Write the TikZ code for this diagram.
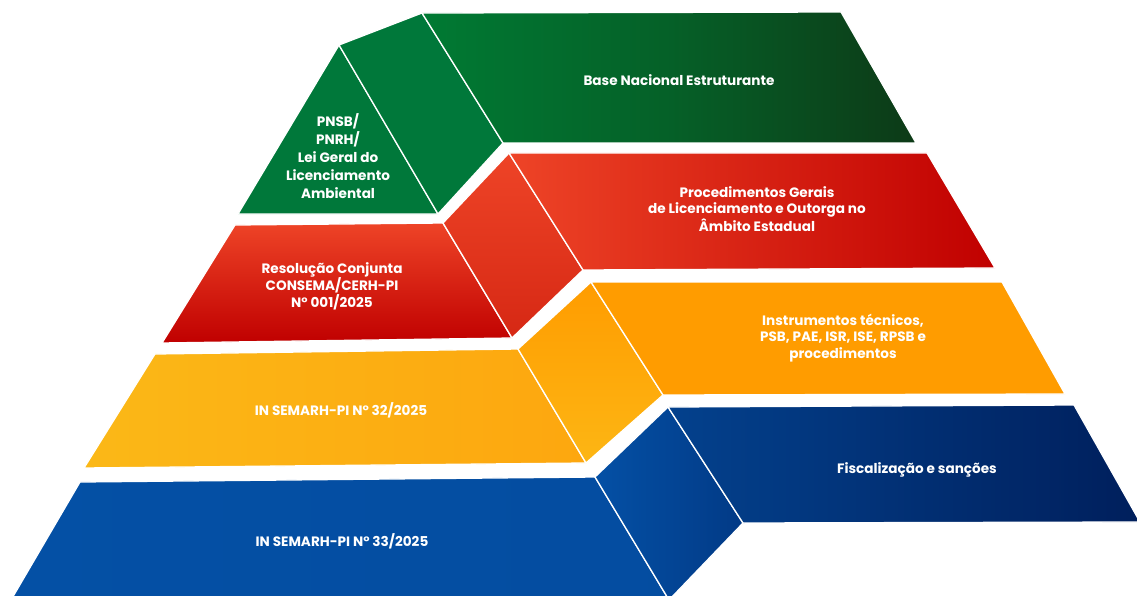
\documentclass[tikz,border=0pt]{standalone}
\usepackage{fontspec}
\setmainfont{Poppins}
\definecolor{gA}{HTML}{00783A}
\definecolor{gB}{HTML}{007A33}
\definecolor{gC}{HTML}{0D3A17}
\definecolor{rA}{HTML}{EE4427}
\definecolor{rB}{HTML}{C00000}
\definecolor{rC}{HTML}{D62814}
\definecolor{oA}{HTML}{FBB817}
\definecolor{oB}{HTML}{FDA70F}
\definecolor{oC}{HTML}{FF9C00}
\definecolor{oD}{HTML}{FDB614}
\definecolor{bA}{HTML}{0450A5}
\definecolor{bB}{HTML}{023A86}
\definecolor{bC}{HTML}{03418D}
\definecolor{bD}{HTML}{001F5C}
\begin{document}
\begin{tikzpicture}[x=1pt,y=-1pt,
  face/.style={draw=white, line width=1.3pt, line join=round},
  lbl/.style={text=white, font=\bfseries\fontsize{13.6}{16.5}\selectfont, align=center, inner sep=0pt}]
\useasboundingbox (0,0) rectangle (1137,596);
\clip (0,0) rectangle (1137,596);
% ---------- blue layer ----------
\shadedraw[face, left color=bA, right color=bA!85!bB] (80,482) -- (595,477) -- (669,600) -- (11,600) -- cycle;
\shadedraw[face, left color=bA, right color=bB] (595,477) -- (668,407) -- (743,523) -- (669,600) -- cycle;
\shadedraw[face, left color=bC, right color=bD] (668,407) -- (1074,405) -- (1140,522) -- (743,523) -- cycle;
% ---------- orange layer ----------
\shadedraw[face, left color=oA, right color=oB] (155,354) -- (518,349) -- (586,463) -- (84,468) -- cycle;
\shadedraw[face, top color=oC, bottom color=oD] (518,349) -- (591,282) -- (663,395) -- (586,463) -- cycle;
\filldraw[face, fill=oC] (591,282) -- (1002,282) -- (1065,394) -- (663,395) -- cycle;
% ---------- red layer ----------
\shadedraw[face, top color=rA, bottom color=rB] (235,225) -- (443,223) -- (512,338) -- (162,343) -- cycle;
\shadedraw[face, top color=rA, bottom color=rC] (443,223) -- (509,153) -- (583,270) -- (512,338) -- cycle;
\shadedraw[face, left color=rA, right color=rB] (509,153) -- (927,153) -- (995,268) -- (583,270) -- cycle;
% ---------- green layer ----------
\filldraw[face, fill=gA] (339,45) -- (438,214) -- (238,214) -- cycle;
\filldraw[face, fill=gA] (339,45) -- (422,13) -- (503,143) -- (438,214) -- cycle;
\shadedraw[face, left color=gB, right color=gC, middle color=gB!60!gC] (422,13) -- (841,12) -- (916,143) -- (503,143) -- cycle;
% ---------- labels ----------
\node[lbl] (base) at (679,80) {Base Nacional Estruturante};
\node[lbl, font=\bfseries\fontsize{13.6}{18}\selectfont] (pnsb) at (338,156) {PNSB/\\PNRH/\\Lei Geral do\\Licenciamento\\Ambiental};
\node[lbl] (resol) at (332,286) {Resolução Conjunta\\CONSEMA/CERH-PI\\N° 001/2025};
\node[lbl] (proc) at (757,209) {Procedimentos Gerais\\de Licenciamento e Outorga no\\Âmbito Estadual};
\node[lbl] (in32) at (341,410) {IN SEMARH-PI N° 32/2025};
\node[lbl] (instr) at (843,338) {Instrumentos técnicos,\\PSB, PAE, ISR, ISE, RPSB e\\procedimentos};
\node[lbl] (fisc) at (917,470) {Fiscalização e sanções};
\node[lbl] (in33) at (342,541) {IN SEMARH-PI N° 33/2025};
\end{tikzpicture}
\end{document}
